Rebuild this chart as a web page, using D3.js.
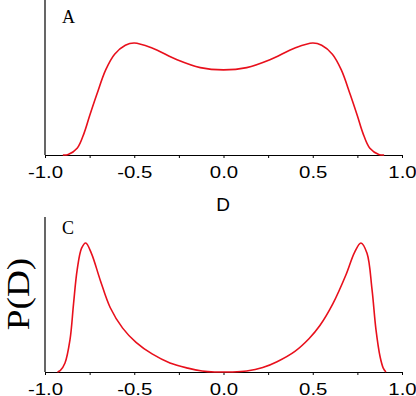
<!DOCTYPE html>
<html>
<head>
<meta charset="utf-8">
<script src="https://cdn.jsdelivr.net/npm/d3@7"></script>
<style>
  body { margin: 0; background: #fff; }
  svg { display: block; }
</style>
</head>
<body>
<div id="chart"></div>
<script>
// panel A: P(D), normalised to the peak
const topD = [-0.90, -0.87, -0.82, -0.78, -0.75, -0.71, -0.66, -0.61, -0.55, -0.50, -0.40, -0.26, -0.13, 0,
              0.13, 0.26, 0.40, 0.50, 0.55, 0.61, 0.66, 0.71, 0.75, 0.78, 0.82, 0.87, 0.90];
const topP = [0, 0.005, 0.06, 0.20, 0.35, 0.54, 0.76, 0.90, 0.98, 1, 0.955, 0.85, 0.78, 0.76,
              0.78, 0.85, 0.955, 1, 0.98, 0.90, 0.76, 0.54, 0.35, 0.20, 0.06, 0.005, 0];

// panel C
const botD = [-0.93, -0.915, -0.888, -0.86, -0.84, -0.82, -0.795, -0.772, -0.74, -0.69, -0.635, -0.565,
              -0.49, -0.40, -0.30, -0.20, -0.12, -0.05, 0, 0.05, 0.13, 0.22, 0.30, 0.40, 0.48, 0.54, 0.613,
              0.685, 0.735, 0.77, 0.804, 0.832, 0.854, 0.877, 0.895, 0.91];
const botP = [0, 0.01, 0.07, 0.25, 0.53, 0.79, 0.96, 1, 0.92, 0.71, 0.50, 0.34,
              0.23, 0.14, 0.07, 0.03, 0.008, 0, 0, 0, 0.008, 0.035, 0.08, 0.16, 0.26, 0.36, 0.53,
              0.75, 0.93, 1, 0.92, 0.64, 0.33, 0.12, 0.03, 0];

const majorTicks = [-1.0, -0.5, 0.0, 0.5, 1.0];
const minorTicks = [-0.75, -0.25, 0.25, 0.75];

const width = 416, height = 396;
const left = 45, right = 402;

const svg = d3.select("#chart").append("svg")
    .attr("width", width).attr("height", height);

const x = d3.scaleLinear().domain([-1, 1]).range([left, right]);

function panel(D, P, top, base, peak, tag, tagY) {
    const y = d3.scaleLinear().domain([0, 1]).range([base, peak]);
    const g = svg.append("g");

    // y axis: bare line
    g.append("line")
        .attr("x1", left).attr("x2", left)
        .attr("y1", top).attr("y2", base)
        .attr("stroke", "#000").attr("stroke-width", 1.2);

    // minor ticks
    g.append("g").attr("transform", "translate(0," + base + ")")
        .call(d3.axisBottom(x).tickValues(minorTicks).tickSize(3).tickSizeOuter(0).tickFormat(""))
        .call(a => a.select(".domain").remove())
        .selectAll("line").attr("stroke", "#000");

    const ax = g.append("g").attr("transform", "translate(0," + base + ")")
        .call(d3.axisBottom(x).tickValues(majorTicks).tickSize(3).tickSizeOuter(0)
            .tickFormat(d3.format(".1f")));
    ax.select(".domain").attr("stroke", "#000").attr("stroke-width", 1.2);
    ax.selectAll("line").attr("stroke", "#000");
    ax.selectAll("text")
        .attr("y", 23).attr("dy", 0)
        .attr("transform", "scale(1.2,1)")
        .attr("fill", "#000")
        .style("font-family", "'Liberation Sans', Arial, sans-serif")
        .style("font-size", "17px")
        .text(d => d3.format(".1f")(d).replace("−", "-"));

    const line = d3.line()
        .x((d, i) => x(D[i]))
        .y((d, i) => y(P[i]))
        .curve(d3.curveCatmullRom.alpha(0.5));

    g.append("path")
        .datum(P)
        .attr("d", line)
        .attr("fill", "none")
        .attr("stroke", "#e8101c")
        .attr("stroke-width", 1.6);

    g.append("text")
        .attr("x", 62).attr("y", tagY)
        .style("font-family", "'Liberation Serif', 'Times New Roman', serif")
        .style("font-size", "18px")
        .text(tag);
}

panel(topD, topP, 0, 155, 43, "A", 23);
panel(botD, botP, 217, 372, 243, "C", 234);

svg.append("text")
    .attr("x", 223).attr("y", 211)
    .attr("text-anchor", "middle")
    .style("font-family", "'Liberation Sans', Arial, sans-serif")
    .style("font-size", "19px")
    .text("D");

svg.append("text")
    .attr("transform", "translate(29,294) rotate(-90) scale(1.2,1)")
    .attr("text-anchor", "middle")
    .style("font-family", "'Liberation Serif', 'Times New Roman', serif")
    .style("font-size", "31px")
    .text("P(D)");
</script>
</body>
</html>
